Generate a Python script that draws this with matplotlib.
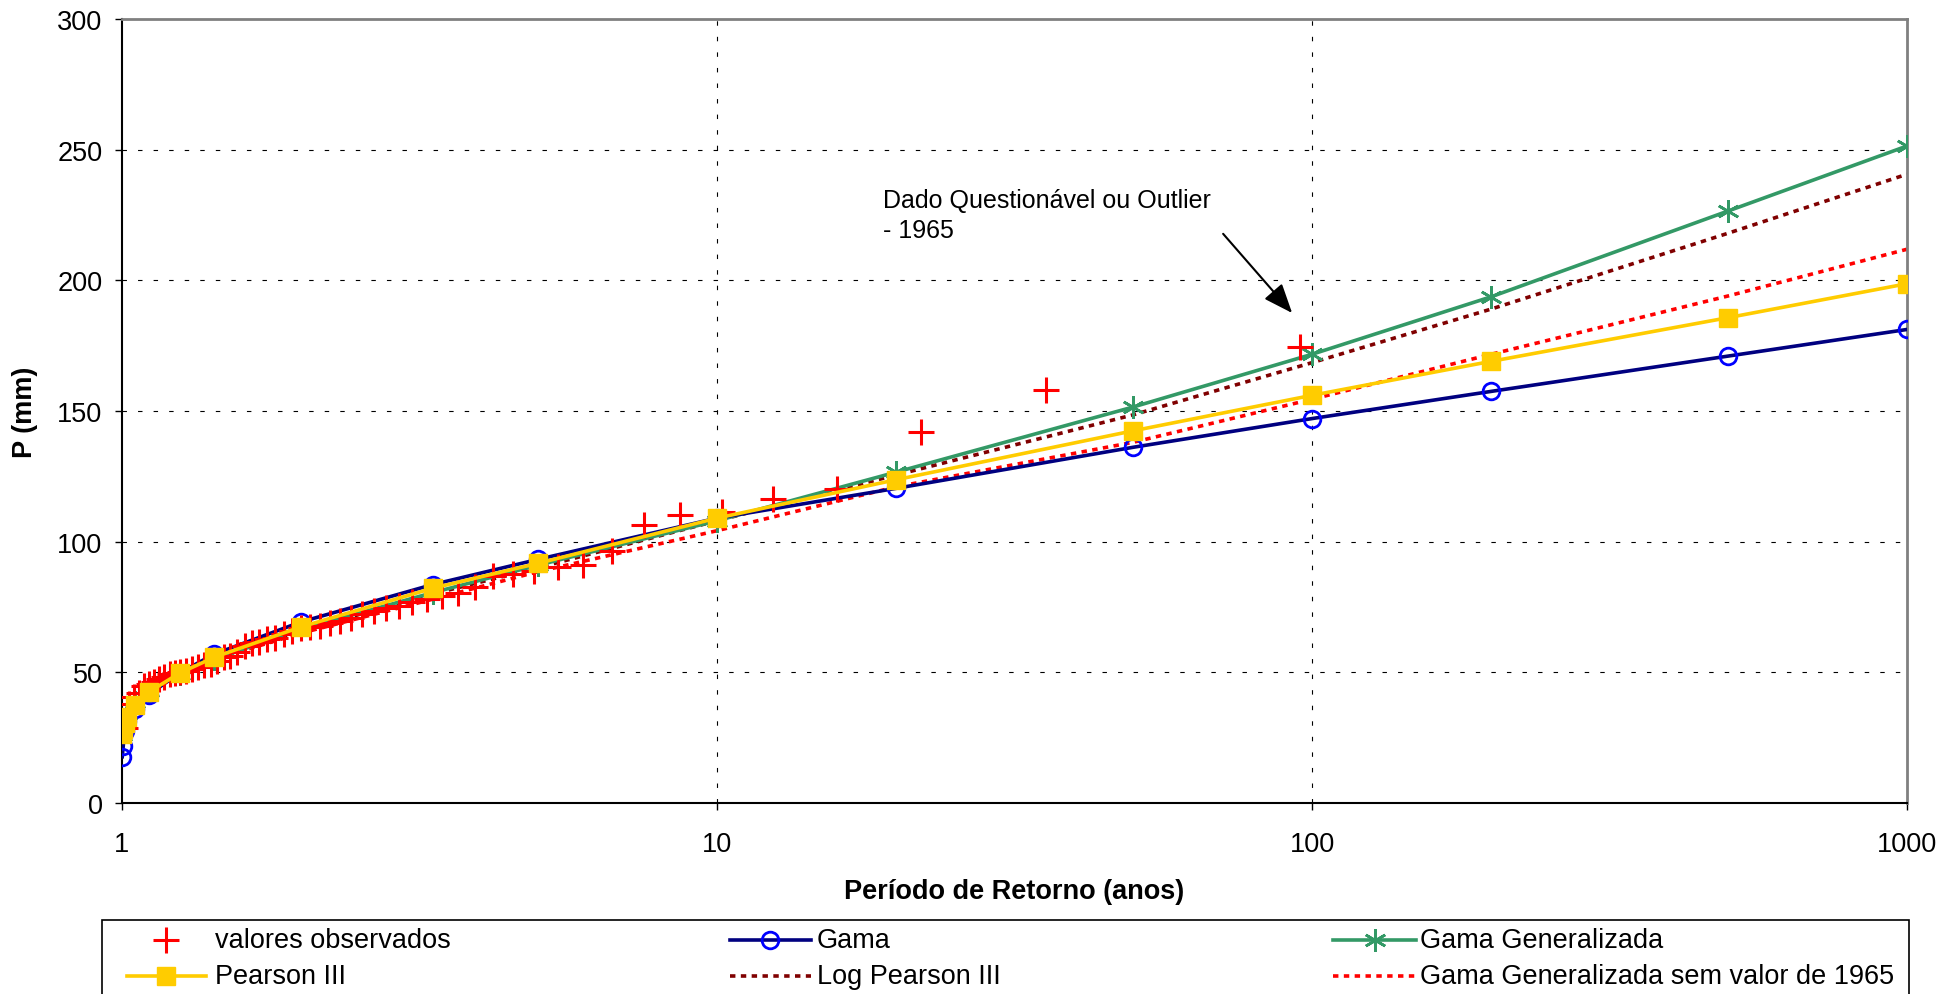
import matplotlib
matplotlib.use("Agg")
import matplotlib.pyplot as plt
from matplotlib.lines import Line2D
from matplotlib.patches import Rectangle

plt.rcParams['font.family'] = ['Liberation Sans', 'DejaVu Sans']

# Observed annual maxima, ranked from largest to smallest, with their return periods (anos)
obs_T = [95.33, 35.75, 22.00, 15.89, 12.43, 10.21, 8.667, 7.526, 6.651, 5.958,
         5.396, 4.931, 4.540, 4.206, 3.918, 3.667, 3.446, 3.250, 3.075, 2.918,
         2.777, 2.648, 2.531, 2.424, 2.325, 2.234, 2.150, 2.072, 2.000, 1.932,
         1.869, 1.810, 1.755, 1.702, 1.653, 1.607, 1.563, 1.521, 1.482, 1.444,
         1.409, 1.375, 1.343, 1.312, 1.283, 1.254, 1.227, 1.202, 1.177, 1.153,
         1.130, 1.109, 1.087, 1.067, 1.048, 1.029, 1.011]
obs_P = [174.4, 158.0, 142.1, 120.2, 116.3, 111.3, 110.1, 106.2, 96.4, 91.0,
         90.3, 88.9, 87.8, 87.0, 82.6, 80.2, 79.3, 78.2, 77.0, 75.5,
         74.5, 73.6, 72.2, 70.8, 69.8, 68.8, 67.8, 67.4, 67.0, 66.0,
         64.5, 63.0, 62.6, 61.6, 61.2, 60.2, 57.8, 56.4, 55.9, 54.5,
         53.2, 52.8, 52.0, 51.1, 50.6, 50.2, 49.7, 49.4, 48.3, 47.3,
         46.3, 45.4, 44.9, 42.0, 40.6, 37.7, 28.6]

# Return periods at which the fitted distributions are evaluated
fit_T = [1.001, 1.005, 1.01, 1.02, 1.05, 1.11, 1.25, 1.43, 2, 3.33, 5, 10,
         20, 50, 100, 200, 500, 1000]

gama_P = [17.7, 22.0, 27.5, 31.5, 36.0, 41.5, 49.8, 57.0, 69.3, 83.6, 93.2, 109.0,
          120.4, 136.1, 147.1, 157.5, 171.0, 181.2]
pearson_P = [26.5, 28.5, 30.5, 33.0, 37.5, 42.5, 49.7, 55.8, 67.4, 82.2, 91.7, 109.0,
             123.7, 142.4, 156.0, 169.0, 185.7, 198.7]
gg_P = [26.0, 29.0, 31.0, 34.0, 38.5, 43.0, 49.5, 55.0, 66.5, 80.5, 91.0, 108.0,
        126.6, 151.5, 171.7, 193.7, 226.5, 251.4]
lp3_P = [28.0, 31.0, 34.0, 36.0, 40.0, 44.0, 50.0, 55.5, 66.0, 80.0, 90.0, 108.0,
         125.5, 148.5, 168.5, 189.0, 218.0, 240.6]
gg_sem_P = [27.0, 30.0, 33.0, 36.0, 40.0, 44.0, 50.0, 55.0, 65.0, 78.0, 88.5, 104.2,
            121.0, 138.0, 154.5, 171.7, 194.0, 211.9]

x_ticks = [1, 10, 100, 1000]
y_ticks = [0, 50, 100, 150, 200, 250, 300]

C_NAVY = '#000080'
C_BLUE = '#0000FF'
C_GREEN = '#339966'
C_YELLOW = '#FFCC00'
C_DARKRED = '#800000'
C_RED = '#FF0000'

FS = 19.5
W, H = 1957, 995
fig = plt.figure(figsize=(W / 100, H / 100), dpi=100)
ax = fig.add_axes([122 / W, 1 - 804 / H, (1907 - 122) / W, (804 - 20) / H])

asterisk = (6, 2, 0)
dot_style = (0, (1.5, 1.5))
LW = 2.6

ax.plot(fit_T, gg_sem_P, color=C_RED, lw=LW, ls=dot_style, zorder=2)
ax.plot(fit_T, lp3_P, color=C_DARKRED, lw=LW, ls=dot_style, zorder=2)
ax.plot(fit_T, gg_P, color=C_GREEN, lw=LW, marker=asterisk, ms=16,
        mec=C_GREEN, mew=1.9, zorder=3)
ax.plot(fit_T, gama_P, color=C_NAVY, lw=LW, marker='o', ms=12,
        mfc='none', mec=C_BLUE, mew=2.0, zorder=4)
ax.plot(obs_T, obs_P, ls='none', marker='+', ms=19, mew=2.2, color=C_RED, zorder=5)
ax.plot(fit_T, pearson_P, color=C_YELLOW, lw=LW, marker='s', ms=13,
        mfc=C_YELLOW, mec=C_YELLOW, zorder=6)

ax.set_xscale('log')
ax.set_xlim(1, 1000)
ax.set_ylim(0, 300)
ax.set_xticks(x_ticks)
ax.set_xticklabels([str(t) for t in x_ticks])
ax.xaxis.set_minor_locator(matplotlib.ticker.NullLocator())
ax.set_yticks(y_ticks)
ax.tick_params(axis='both', which='major', direction='out', length=5,
               width=1.0, labelsize=FS, color='black')
ax.tick_params(axis='x', pad=15)
ax.tick_params(axis='y', pad=9)

grid_ls = (0, (4, 10))
for y in y_ticks[1:-1]:
    ax.axhline(y, color='black', lw=0.8, ls=grid_ls, zorder=1)
for x in x_ticks[1:-1]:
    ax.axvline(x, color='black', lw=0.8, ls=grid_ls, zorder=1)

ax.spines['left'].set_color('black')
ax.spines['left'].set_linewidth(1.5)
ax.spines['bottom'].set_color('black')
ax.spines['bottom'].set_linewidth(1.5)
ax.spines['top'].set_color('#808080')
ax.spines['top'].set_linewidth(2)
ax.spines['right'].set_color('#808080')
ax.spines['right'].set_linewidth(2)


def fx(px):
    return px / W


def fy(py):
    return 1 - py / H


# Axis titles
fig.text(fx(1014), fy(892), 'Período de Retorno (anos)', fontsize=FS,
         fontweight='bold', ha='center', va='center')
fig.text(fx(25), fy(412), 'P (mm)', fontsize=FS, fontweight='bold',
         rotation=90, ha='center', va='center')

# Outlier note with arrow
ax.text(19.0, 225, 'Dado Questionável ou Outlier\n- 1965', fontsize=18,
        ha='left', va='center', linespacing=1.35, zorder=7)
ax.annotate('', xy=(92.6, 187.5), xytext=(70.9, 217.8),
            arrowprops=dict(arrowstyle='-|>,head_length=1.0,head_width=0.4',
                            color='black', lw=1.5, mutation_scale=18,
                            shrinkA=0, shrinkB=0), zorder=7)

# Legend box along the bottom edge
fig.patches.append(Rectangle((fx(102), fy(1100)), fx(1909) - fx(102), fy(921) - fy(1100),
                             transform=fig.transFigure, fill=False, ec='black', lw=1.2))

row_y = [941, 977]
entries = [
    # (handle x0, x1, marker x, text x, row, style, label)
    (None, None, 166, 215, 0, dict(ls='none', marker='+', ms=19, mew=2.2, color=C_RED), 'valores observados'),
    (730, 811, 770, 817, 0, dict(color=C_NAVY, lw=LW, marker='o', ms=12, mfc='none', mec=C_BLUE, mew=2.0), 'Gama'),
    (1333, 1416, 1375, 1420, 0, dict(color=C_GREEN, lw=LW, marker=asterisk, ms=16, mec=C_GREEN, mew=1.9), 'Gama Generalizada'),
    (127, 206, 166, 215, 1, dict(color=C_YELLOW, lw=LW, marker='s', ms=13, mfc=C_YELLOW, mec=C_YELLOW), 'Pearson III'),
    (730, 811, None, 817, 1, dict(color=C_DARKRED, lw=LW, ls=dot_style), 'Log Pearson III'),
    (1333, 1416, None, 1420, 1, dict(color=C_RED, lw=LW, ls=dot_style), 'Gama Generalizada sem valor de 1965'),
]
for x0, x1, xm, xt, row, style, label in entries:
    yy = fy(row_y[row])
    if x0 is not None:
        line_style = {k: v for k, v in style.items()
                      if k not in ('marker', 'ms', 'mfc', 'mec', 'mew')}
        fig.add_artist(Line2D([fx(x0), fx(x1)], [yy, yy], transform=fig.transFigure, **line_style))
    if xm is not None and 'marker' in style:
        mstyle = {k: v for k, v in style.items() if k not in ('lw', 'ls')}
        mstyle['ls'] = 'none'
        fig.add_artist(Line2D([fx(xm)], [yy], transform=fig.transFigure, **mstyle))
    fig.text(fx(xt), yy, label, fontsize=FS, ha='left', va='center')

fig.savefig('out.png', dpi=100, facecolor='white')
